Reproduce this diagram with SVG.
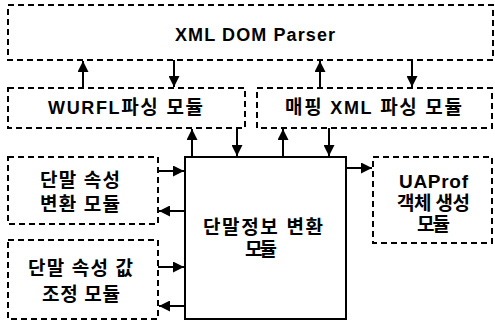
<svg xmlns="http://www.w3.org/2000/svg" width="495" height="326" viewBox="0 0 495 326">
<style>
.dbox{fill:none;stroke:#000;stroke-width:2;stroke-dasharray:6 4}
.sbox{fill:#fff;stroke:#000;stroke-width:2}
.conn{fill:none;stroke:#000;stroke-width:2;marker-end:url(#ah)}
text{font-family:"Liberation Sans","Noto Sans CJK KR",sans-serif;fill:#000;text-anchor:middle;font-weight:bold}
.lat{font-size:18px}
.ko{font-size:19px}
.kb{font-size:19px}
</style>
<defs>
<marker id="ah" viewBox="0 0 10 10" refX="10" refY="5" markerWidth="11" markerHeight="11" markerUnits="userSpaceOnUse" orient="auto">
<path d="M0,0 L10,5 L0,10 Z" fill="#000"/>
</marker>
</defs>
<g id="connectors">
<line class="conn" x1="83" y1="88" x2="83" y2="61"/>
<line class="conn" x1="174" y1="60" x2="174" y2="87"/>
<line class="conn" x1="320" y1="88" x2="320" y2="61"/>
<line class="conn" x1="412" y1="60" x2="412" y2="87"/>
<line class="conn" x1="192" y1="157" x2="192" y2="129"/>
<line class="conn" x1="237" y1="128" x2="237" y2="156"/>
<line class="conn" x1="283" y1="157" x2="283" y2="129"/>
<line class="conn" x1="329" y1="128" x2="329" y2="156"/>
<line class="conn" x1="158" y1="171" x2="184" y2="171"/>
<line class="conn" x1="185" y1="211" x2="159" y2="211"/>
<line class="conn" x1="158" y1="267" x2="184" y2="267"/>
<line class="conn" x1="185" y1="306" x2="159" y2="306"/>
<line class="conn" x1="346" y1="168" x2="372" y2="168"/>
</g>
<g id="dom-parser">
<rect class="dbox" x="8" y="5" width="485" height="55"/>
<text class="lat" x="255" y="41" textLength="160" lengthAdjust="spacing">XML DOM Parser</text>
</g>
<g id="wurfl">
<rect class="dbox" x="8" y="88" width="237" height="40"/>
<text class="lat" x="125.5" y="114" textLength="155" lengthAdjust="spacing">WURFL<tspan class="kb">파싱 모듈</tspan></text>
</g>
<g id="mapping">
<rect class="dbox" x="257" y="88" width="235" height="40"/>
<text class="lat" x="373.5" y="114" textLength="177" lengthAdjust="spacing"><tspan class="kb">매핑 </tspan>XML<tspan class="kb"> 파싱 모듈</tspan></text>
</g>
<g id="attr-convert">
<rect class="dbox" x="8" y="157" width="150" height="67"/>
<text class="ko" x="80" y="187" textLength="80" lengthAdjust="spacing">단말 속성</text>
<text class="ko" x="80" y="211" textLength="80" lengthAdjust="spacing">변환 모듈</text>
</g>
<g id="attr-adjust">
<rect class="dbox" x="8" y="240" width="150" height="79"/>
<text class="ko" x="80.5" y="275" textLength="105" lengthAdjust="spacing">단말 속성 값</text>
<text class="ko" x="81" y="301" textLength="78" lengthAdjust="spacing">조정 모듈</text>
</g>
<g id="device-info">
<rect class="sbox" x="185" y="157" width="161" height="162"/>
<text class="ko" x="263" y="234" textLength="120" lengthAdjust="spacing">단말정보 변환</text>
<text class="ko" x="261" y="256" textLength="32" lengthAdjust="spacing">모듈</text>
</g>
<g id="uaprof">
<rect class="dbox" x="373" y="157" width="119" height="86"/>
<text class="lat" x="433.5" y="188" style="font-size:19px" textLength="69" lengthAdjust="spacing">UAProf</text>
<text class="ko" x="433.5" y="210" textLength="73" lengthAdjust="spacing">객체 생성</text>
<text class="ko" x="433.5" y="231" textLength="33" lengthAdjust="spacing">모듈</text>
</g>
</svg>
